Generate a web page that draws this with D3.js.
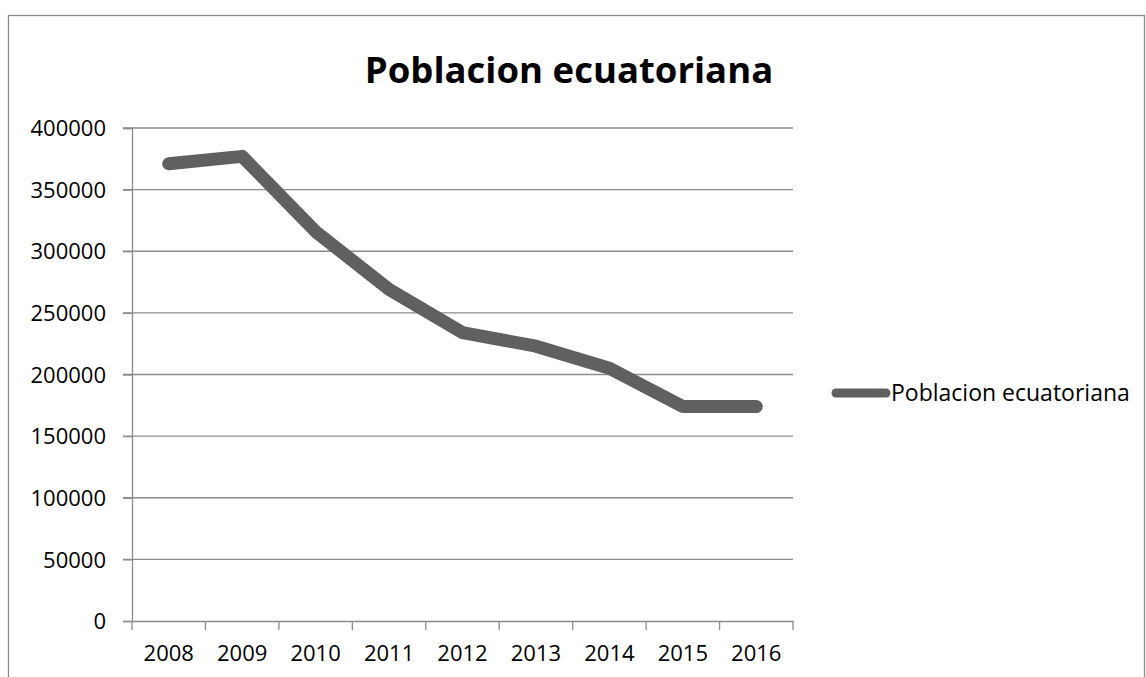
<!DOCTYPE html>
<html>
<head>
<meta charset="utf-8">
<script src="https://cdn.jsdelivr.net/npm/d3@7"></script>
<style>
body{margin:0;background:#fff;}
text{font-family:"Open Sans",sans-serif;fill:#000;}
</style>
</head>
<body>
<script>
// DATA
var years=["2008","2009","2010","2011","2012","2013","2014","2015","2016"];
var poblacion=[371000,377000,316000,269000,234000,223000,205000,174000,174000];
var yTicks=[0,50000,100000,150000,200000,250000,300000,350000,400000];
var seriesName="Poblacion ecuatoriana";

// SVG
var width=1146, height=677;
var plotLeft=132, plotRight=793, plotTop=128, plotBottom=621;
var lineColor="#606060", gridColor="#8c8c8c";

var svg=d3.select("body").append("svg")
  .attr("width",width).attr("height",height);

// chart frame
svg.append("rect")
  .attr("x",8.5).attr("y",15.5)
  .attr("width",1136).attr("height",700)
  .attr("fill","none").attr("stroke","#8a8a8a").attr("stroke-width",1.3);

var x=d3.scaleBand().domain(years).range([plotLeft,plotRight]);
var y=d3.scaleLinear().domain([0,400000]).range([plotBottom,plotTop]);

// gridlines
svg.append("g").selectAll("line")
  .data(yTicks.filter(function(d){return d>0;}))
  .enter().append("line")
  .attr("x1",plotLeft-9).attr("x2",plotRight)
  .attr("y1",function(d){return y(d);}).attr("y2",function(d){return y(d);})
  .attr("stroke",gridColor).attr("stroke-width",1.3);

// y axis
var yAxis=svg.append("g").attr("transform","translate("+plotLeft+",0)")
  .call(d3.axisLeft(y).tickValues(yTicks).tickSize(9).tickPadding(17).tickFormat(d3.format("d")));
yAxis.select(".domain").attr("stroke",gridColor).attr("stroke-width",1.3);
yAxis.selectAll(".tick line").attr("stroke",gridColor).attr("stroke-width",1.3);
yAxis.selectAll("text").attr("font-size",22).attr("font-family","Open Sans").attr("fill","#000").attr("dy","0.35em");

// x axis
var xAxis=svg.append("g").attr("transform","translate(0,"+plotBottom+")")
  .call(d3.axisBottom(x).tickSize(0).tickPadding(24));
xAxis.select(".domain").attr("stroke",gridColor).attr("stroke-width",1.3);
xAxis.selectAll("text").attr("font-size",22).attr("font-family","Open Sans").attr("fill","#000");
// category boundary ticks
var bounds=years.map(function(d){return x(d);}).concat([plotRight]);
xAxis.selectAll(".bound").data(bounds).enter().append("line")
  .attr("x1",function(d){return d;}).attr("x2",function(d){return d;})
  .attr("y1",0).attr("y2",9)
  .attr("stroke",gridColor).attr("stroke-width",1.3);

// line
var line=d3.line()
  .x(function(d,i){return x(years[i])+x.bandwidth()/2;})
  .y(function(d){return y(d);});
svg.append("path").datum(poblacion)
  .attr("d",line)
  .attr("fill","none").attr("stroke",lineColor)
  .attr("stroke-width",13).attr("stroke-linecap","round").attr("stroke-linejoin","round");

// title
svg.append("text")
  .attr("x",569).attr("y",83)
  .attr("text-anchor","middle")
  .attr("font-size",36.5).attr("font-weight","bold")
  .text(seriesName);

// legend
svg.append("line")
  .attr("x1",836).attr("x2",886).attr("y1",393).attr("y2",393)
  .attr("stroke",lineColor).attr("stroke-width",9).attr("stroke-linecap","round");
svg.append("text")
  .attr("x",891).attr("y",401)
  .attr("font-size",23)
  .text(seriesName);
</script>
</body>
</html>
